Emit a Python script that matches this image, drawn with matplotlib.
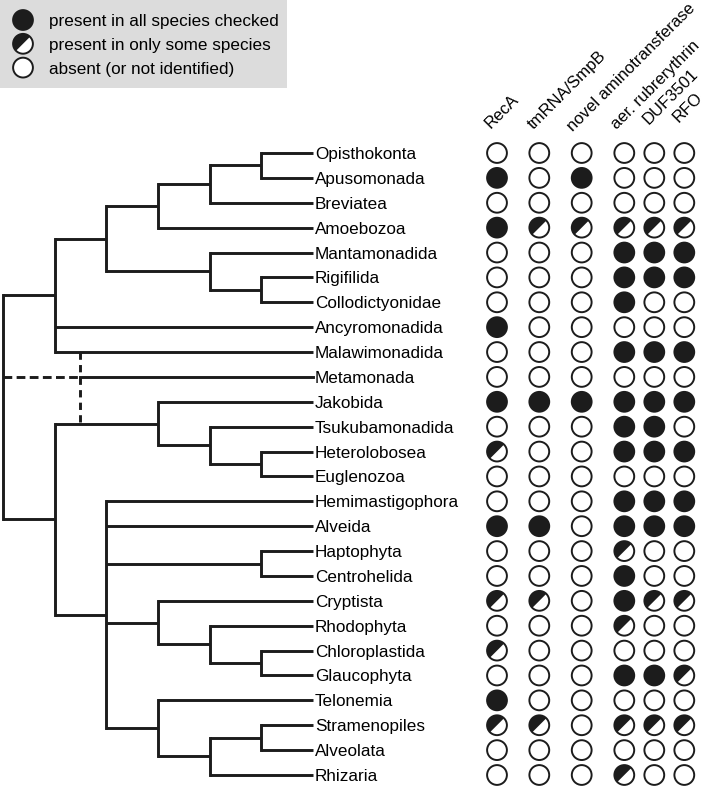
import matplotlib.pyplot as plt
from matplotlib.patches import Circle, Wedge, Rectangle

plt.rcParams["font.family"] = ["Liberation Sans", "DejaVu Sans"]

# taxa in display order (top to bottom)
taxa = ["Opisthokonta", "Apusomonada", "Breviatea", "Amoebozoa", "Mantamonadida",
        "Rigifilida", "Collodictyonidae", "Ancyromonadida", "Malawimonadida", "Metamonada",
        "Jakobida", "Tsukubamonadida", "Heterolobosea", "Euglenozoa", "Hemimastigophora",
        "Alveida", "Haptophyta", "Centrohelida", "Cryptista", "Rhodophyta",
        "Chloroplastida", "Glaucophyta", "Telonemia", "Stramenopiles", "Alveolata", "Rhizaria"]

# topology (Metamonada placed separately, uncertain position)
top_clade = [[[[["Opisthokonta", "Apusomonada"], "Breviatea"], "Amoebozoa"],
              ["Mantamonadida", ["Rigifilida", "Collodictyonidae"]]],
             "Ancyromonadida", "Malawimonadida"]
discoba = ["Jakobida", ["Tsukubamonadida", ["Heterolobosea", "Euglenozoa"]]]
diaphoretickes = ["Hemimastigophora", "Alveida", ["Haptophyta", "Centrohelida"],
                  ["Cryptista", ["Rhodophyta", ["Chloroplastida", "Glaucophyta"]]],
                  ["Telonemia", [["Stramenopiles", "Alveolata"], "Rhizaria"]]]
tree = [top_clade, [discoba, diaphoretickes]]

columns = ["RecA", "tmRNA/SmpB", "novel aminotransferase", "aer. rubrerythrin", "DUF3501", "RFO"]
# 2 = present in all, 1 = present in some, 0 = absent
presence = [
    [0, 0, 0, 0, 0, 0],
    [2, 0, 2, 0, 0, 0],
    [0, 0, 0, 0, 0, 0],
    [2, 1, 1, 1, 1, 1],
    [0, 0, 0, 2, 2, 2],
    [0, 0, 0, 2, 2, 2],
    [0, 0, 0, 2, 0, 0],
    [2, 0, 0, 0, 0, 0],
    [0, 0, 0, 2, 2, 2],
    [0, 0, 0, 0, 0, 0],
    [2, 2, 2, 2, 2, 2],
    [0, 0, 0, 2, 2, 0],
    [1, 0, 0, 2, 2, 2],
    [0, 0, 0, 0, 0, 0],
    [0, 0, 0, 2, 2, 2],
    [2, 2, 0, 2, 2, 2],
    [0, 0, 0, 1, 0, 0],
    [0, 0, 0, 2, 0, 0],
    [1, 1, 0, 2, 1, 1],
    [0, 0, 0, 1, 0, 0],
    [1, 0, 0, 0, 0, 0],
    [0, 0, 0, 2, 2, 1],
    [2, 0, 0, 0, 0, 0],
    [1, 1, 0, 1, 1, 1],
    [0, 0, 0, 0, 0, 0],
    [0, 0, 0, 1, 0, 0],
]
legend_labels = ["present in all species checked", "present in only some species",
                 "absent (or not identified)"]
legend_codes = [2, 1, 0]

# layout (pixel units, y grows downward)
W, H = 709, 787
row_y0, row_dy = 153, 24.88
tip_x, level_dx = 313, 51.7
col_x = [497, 539.3, 581.7, 624.3, 654.3, 684.3]
head_dx = [-6, -6, -9, -7, -6, -6]
head_dy = [0, 1, 3, 1, -4, -6]
R = 9.9
DARK = "#1c1c1c"
LW = 2.1
FS = 12.3
FS_HEAD = 12.0

fig = plt.figure(figsize=(W / 100, H / 100), dpi=100)
ax = fig.add_axes([0, 0, 1, 1])
ax.set_xlim(0, W)
ax.set_ylim(H, 0)
ax.axis("off")


def row_y(name):
    return row_y0 + row_dy * taxa.index(name)


def layout(node):
    """returns (x, y, height) and draws the node's branches"""
    if isinstance(node, str):
        return tip_x, row_y(node), 0
    kids = [layout(k) for k in node]
    h = 1 + max(k[2] for k in kids)
    x = tip_x - level_dx * h
    ys = [k[1] for k in kids]
    ax.plot([x, x], [ys[0], ys[-1]], color=DARK, lw=LW, solid_capstyle="projecting")
    for kx, ky, _ in kids:
        ax.plot([x, kx], [ky, ky], color=DARK, lw=LW, solid_capstyle="butt")
    node_pos[id(node)] = (x, (ys[0] + ys[-1]) / 2)
    return x, (ys[0] + ys[-1]) / 2, h


node_pos = {}
root_x, root_y, _ = layout(tree)

# Metamonada: uncertain placement
top_x = node_pos[id(top_clade)][0]
a_x = node_pos[id(top_clade[0])][0]
mx = (top_x + a_x) / 2
my = row_y("Metamonada")
ax.plot([mx, tip_x], [my, my], color=DARK, lw=LW)
ax.plot([root_x, mx], [my, my], color=DARK, lw=LW, dashes=(3, 1.5))
disc_y = node_pos[id(discoba)][1]
ax.plot([mx, mx], [row_y("Malawimonadida"), disc_y], color=DARK, lw=LW, dashes=(2.5, 1.8))

for name in taxa:
    ax.text(tip_x + 2, row_y(name) + 6, name, fontsize=FS, ha="left", va="baseline")


def marker(x, y, code):
    if code == 2:
        ax.add_patch(Circle((x, y), R, facecolor=DARK, edgecolor=DARK, lw=1.4))
    elif code == 1:
        # y axis is inverted: 135..315 covers the upper-left half on screen
        ax.add_patch(Circle((x, y), R, facecolor="white", edgecolor="none"))
        ax.add_patch(Wedge((x, y), R, 135, 315, facecolor=DARK, edgecolor="none"))
        ax.add_patch(Circle((x, y), R, facecolor="none", edgecolor=DARK, lw=1.4))
    else:
        ax.add_patch(Circle((x, y), R, facecolor="white", edgecolor=DARK, lw=1.4))


for i, name in enumerate(taxa):
    for j, cx in enumerate(col_x):
        marker(cx, row_y(name), presence[i][j])

for j, (cx, label) in enumerate(zip(col_x, columns)):
    ax.text(cx + head_dx[j], 129 + head_dy[j], label, fontsize=FS_HEAD, rotation=45,
            rotation_mode="anchor", ha="left", va="baseline")

# legend
ax.add_patch(Rectangle((0, 0), 287, 88, facecolor="#dcdcdc", edgecolor="none", zorder=0))
for k, (label, code) in enumerate(zip(legend_labels, legend_codes)):
    ly = 20 + 23.8 * k
    marker(23, ly, code)
    ax.text(49, ly + 6, label, fontsize=FS, ha="left", va="baseline")

fig.savefig("out.png", dpi=100)
